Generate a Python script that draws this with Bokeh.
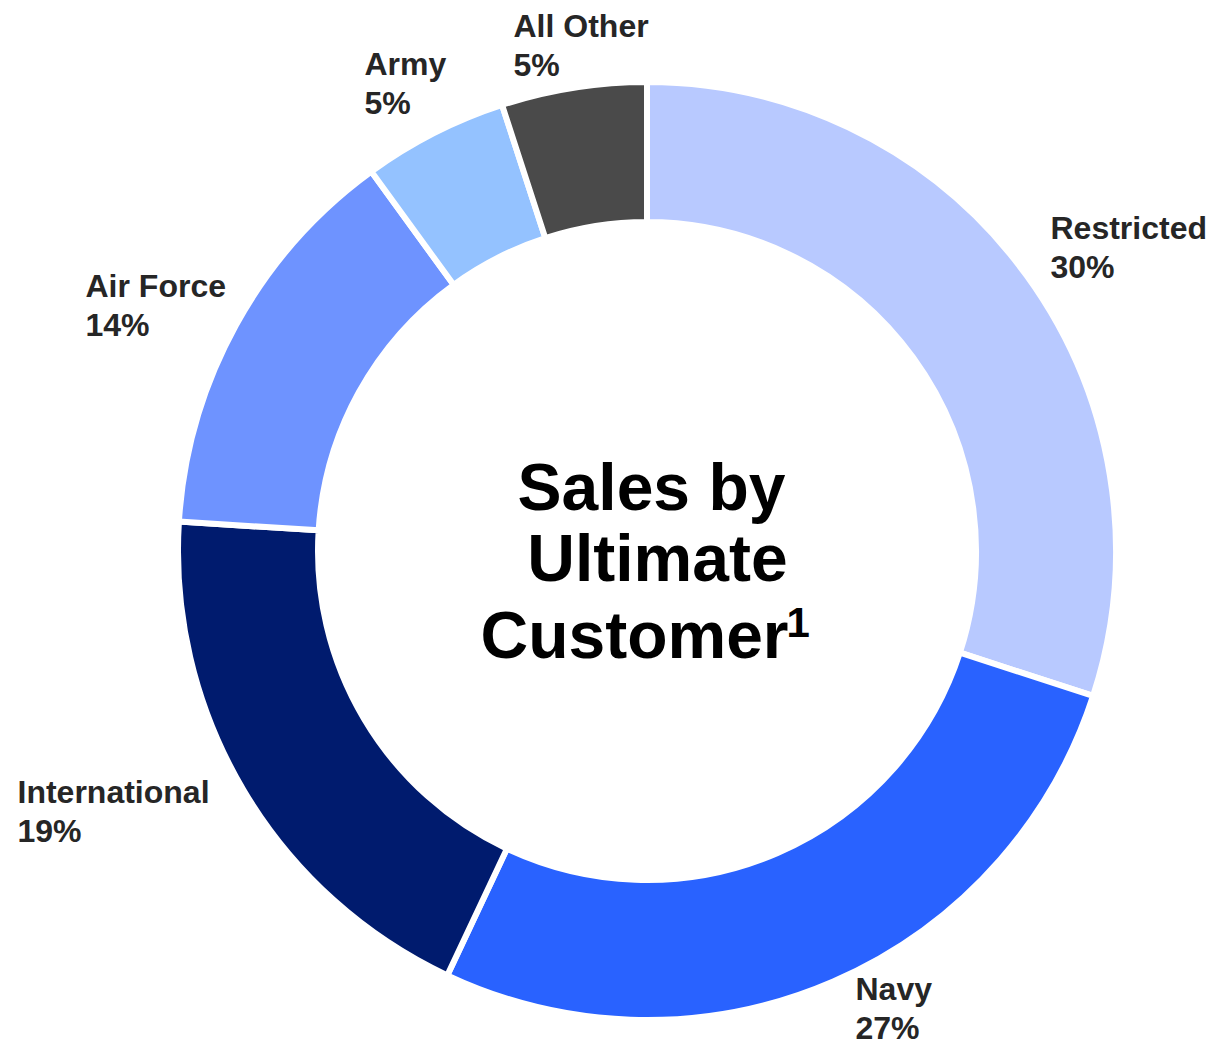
import math
from bokeh.plotting import figure
from bokeh.models import ColumnDataSource, Range1d
from bokeh.core.properties import value
from bokeh.embed import file_html
from bokeh.resources import INLINE

# ---- data ----
categories = ["Restricted", "Navy", "International", "Air Force", "Army", "All Other"]
shares = [30, 27, 19, 14, 5, 5]
colors = ["#B8C9FF", "#2962FF", "#001B6E", "#6E93FF", "#94C2FF", "#4A4A4A"]
title_lines = ["Sales by", "Ultimate", "Customer"]
title_note = "1"

# ---- layout (screen pixel positions of label first-line baselines) ----
label_pos = [(1050, 239), (855, 1000), (17, 803), (85, 297), (364, 75), (513, 37)]
LINE_GAP = 39
LABEL_SIZE = 32
TITLE_SIZE = 66

W, H = 1209, 1046
def X(px):
    return px
def Y(py):
    return H - py

cx, cy = X(646.5), Y(550.5)
R_OUT, R_IN = 469, 329

total = float(sum(shares))
starts, ends = [], []
cum = 0.0
for s in shares:
    starts.append(math.pi / 2 - 2 * math.pi * cum / total)
    cum += s
    ends.append(math.pi / 2 - 2 * math.pi * cum / total)

src = ColumnDataSource(dict(cat=categories, share=shares, color=colors,
                            start=starts, end=ends))

p = figure(width=W, height=H, x_range=Range1d(0, W), y_range=Range1d(0, H),
           x_axis_type=None, y_axis_type=None, toolbar_location=None,
           output_backend="svg", min_border=0)
p.grid.visible = False
p.outline_line_color = None
p.background_fill_color = "white"
p.border_fill_color = "white"

p.annular_wedge(x=cx, y=cy, inner_radius=R_IN, outer_radius=R_OUT,
                start_angle="start", end_angle="end", direction="clock",
                fill_color="color", line_color="white", line_width=6, source=src)

# anchors sit at the vertical centre of the capitals
lab_off = 0.358 * LABEL_SIZE
lab = ColumnDataSource(dict(
    x=[X(a) for a, b in label_pos],
    y1=[Y(b - lab_off) for a, b in label_pos],
    y2=[Y(b + LINE_GAP - lab_off) for a, b in label_pos],
    name=categories,
    pct=[f"{s}%" for s in shares],
))
for col, ycol in (("name", "y1"), ("pct", "y2")):
    p.text(x="x", y=ycol, text=col, source=lab, text_font=value("Liberation Sans"),
           text_font_style="bold", text_font_size=f"{LABEL_SIZE}px", text_color="#262626",
           text_align="left", text_baseline="alphabetic")

# centre title
t_off = 0.358 * TITLE_SIZE
title_base = [(651, 510), (657, 581), (634, 658)]
p.text(x=[X(a) for a, b in title_base], y=[Y(b - t_off) for a, b in title_base],
       text=title_lines, text_font=value("Liberation Sans"), text_font_style="bold",
       text_font_size=f"{TITLE_SIZE}px", text_color="#000000", text_align="center",
       text_baseline="alphabetic")
p.text(x=[X(786)], y=[Y(622)], text=[title_note], text_font=value("Liberation Sans"),
       text_font_style="bold", text_font_size="42px", text_color="#000000",
       text_align="left", text_baseline="alphabetic")

open("out.html", "w").write(file_html(p, INLINE))
